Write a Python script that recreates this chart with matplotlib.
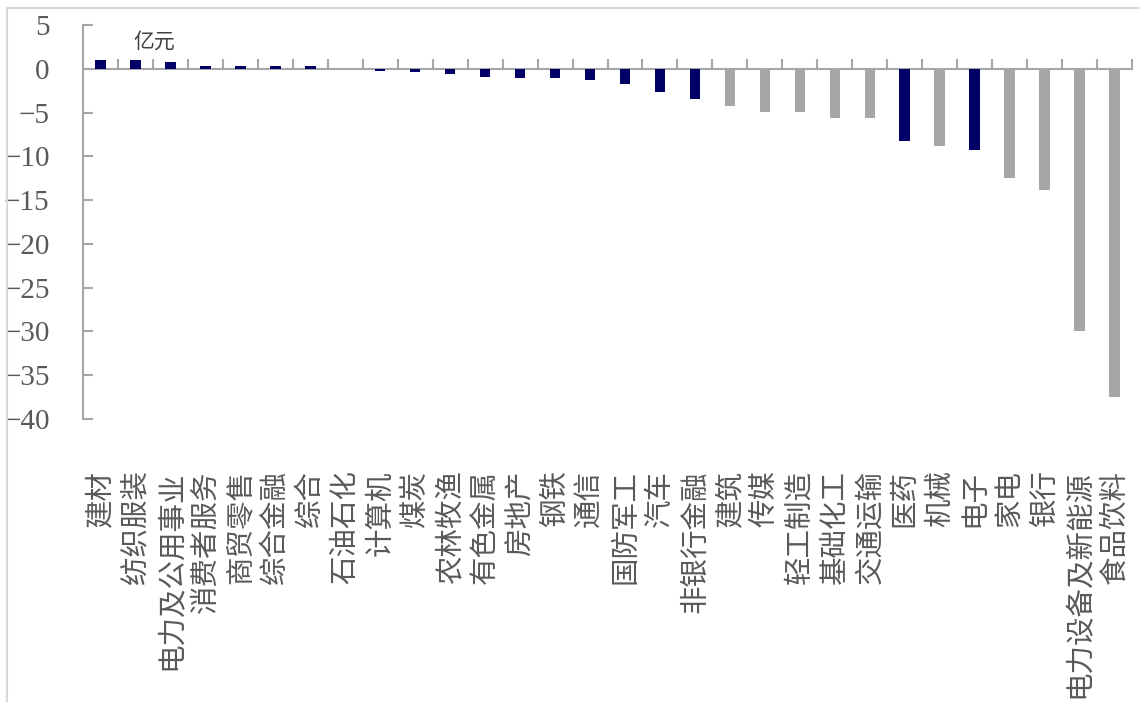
import matplotlib.pyplot as plt
from matplotlib.lines import Line2D
from matplotlib.ticker import FixedLocator

plt.rcParams['font.family'] = ['Noto Sans CJK SC', 'DejaVu Sans']

# 行业资金净流入（亿元）
industries = ['建材', '纺织服装', '电力及公用事业', '消费者服务', '商贸零售', '综合金融', '综合',
              '石油石化', '计算机', '煤炭', '农林牧渔', '有色金属', '房地产', '钢铁', '通信',
              '国防军工', '汽车', '非银行金融', '建筑', '传媒', '轻工制造', '基础化工', '交通运输',
              '医药', '机械', '电子', '家电', '银行', '电力设备及新能源', '食品饮料']
values = [1.0, 1.0, 0.8, 0.3, 0.3, 0.3, 0.3,
          0.0, -0.3, -0.4, -0.6, -0.9, -1.1, -1.1, -1.3,
          -1.7, -2.7, -3.4, -4.2, -4.9, -4.9, -5.6, -5.6,
          -8.3, -8.8, -9.3, -12.5, -13.9, -29.9, -37.5]
# 1 = 深蓝, 0 = 灰
highlight = [1] * 18 + [0, 0, 0, 0, 0, 1, 0, 1, 0, 0, 0, 0]

navy = '#000066'
grey = '#a6a6a6'
text_grey = '#595959'

fig = plt.figure(figsize=(11.4, 7.02), dpi=100)
ax = fig.add_axes([83 / 1140, 1 - 419 / 702, 1049 / 1140, 394 / 702])

x = list(range(len(industries)))
colors = [navy if h else grey for h in highlight]
ax.bar(x, values, width=0.3, color=colors, zorder=3)

ax.set_xlim(-0.5, len(industries) - 0.5)
ax.set_ylim(-40, 5)
ax.set_yticks(range(-40, 6, 5))

# 零轴用顶部边框代替，刻度朝上
for side in ['right', 'bottom']:
    ax.spines[side].set_visible(False)
ax.spines['top'].set_position(('data', 0))
ax.spines['top'].set_color(grey)
ax.spines['top'].set_linewidth(1.5)
ax.spines['left'].set_color(grey)
ax.spines['left'].set_linewidth(1.5)

ax.set_xticks(x)
ax.set_xticklabels(industries, rotation=90, fontsize=20.5, color=text_grey)
ax.xaxis.set_minor_locator(FixedLocator([i + 0.5 for i in range(len(industries))]))
ax.tick_params(axis='x', which='major', length=0, pad=37, bottom=True, top=False)
ax.tick_params(axis='x', which='minor', top=True, bottom=False, direction='out',
               length=7.5, width=1.5, color=grey)
ax.tick_params(axis='y', direction='in', length=7.5, width=1.5, color=grey,
               labelsize=21, labelcolor=text_grey, pad=24)
for lab in ax.get_yticklabels():
    lab.set_fontfamily('Liberation Serif')

ax.text(1.53, 3.1, '亿元', fontsize=15, color='#404040', ha='center', va='center',
        fontweight='light')

# 图表外框
fig.add_artist(Line2D([7 / 1140, 1.0], [1 - 8 / 702, 1 - 8 / 702],
                      transform=fig.transFigure, color='#d9d9d9', lw=1.5))
fig.add_artist(Line2D([7 / 1140, 7 / 1140], [0, 1 - 8 / 702],
                      transform=fig.transFigure, color='#d9d9d9', lw=1.5))

fig.savefig('out.png', dpi=100)
